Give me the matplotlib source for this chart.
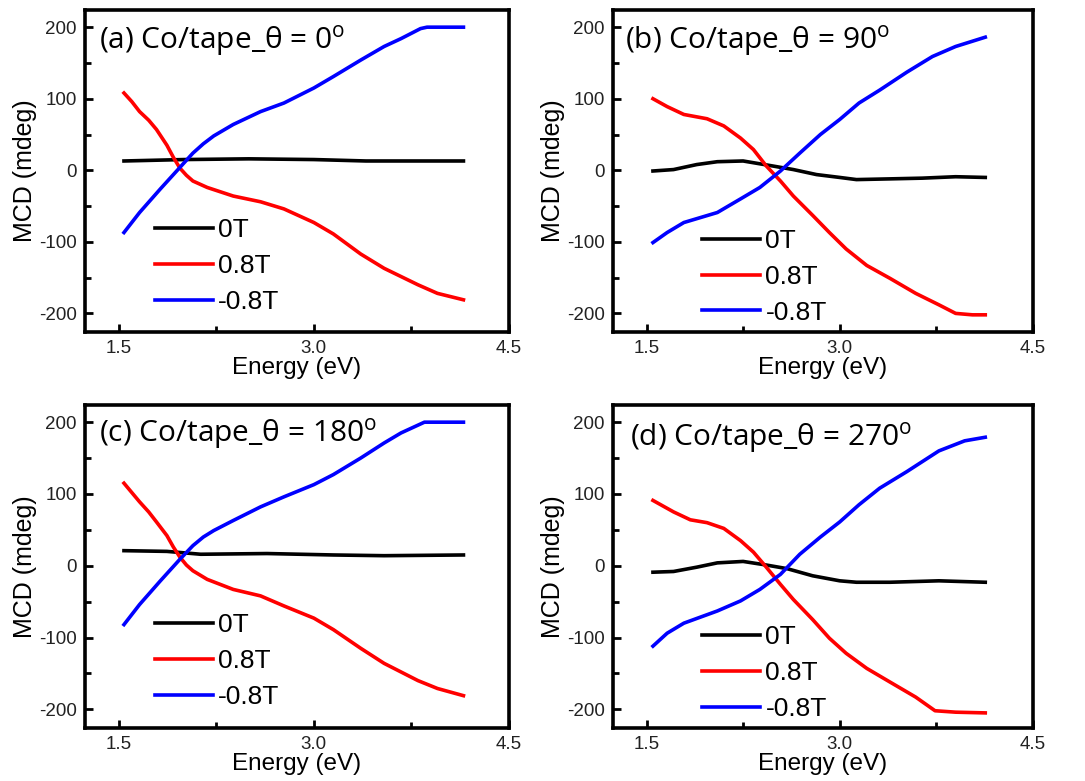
import matplotlib
matplotlib.use("Agg")
import matplotlib.pyplot as plt
from matplotlib.ticker import MultipleLocator

plt.rcParams["font.family"] = ["Liberation Sans", "DejaVu Sans"]
plt.rcParams["mathtext.fontset"] = "custom"
plt.rcParams["mathtext.rm"] = "Open Sans"

#  Values (energy in eV, MCD in mdeg)

# (a) theta = 0
a_0T_x = [1.54, 2.0, 2.5, 3.0, 3.4, 3.8, 4.15]
a_0T_y = [13, 15, 16, 15, 13, 13, 13]
a_p08_x = [1.54, 1.60, 1.66, 1.73, 1.79, 1.87, 1.92, 1.97, 2.02, 2.07, 2.18, 2.38, 2.59, 2.77, 3.0, 3.15, 3.36, 3.54, 3.80, 3.95, 4.15]
a_p08_y = [108, 96, 82, 70, 57, 35, 18, 3, -7, -15, -24, -36, -44, -54, -73, -89, -117, -137, -160, -172, -181]
a_m08_x = [1.54, 1.66, 1.82, 1.97, 2.07, 2.15, 2.23, 2.38, 2.59, 2.77, 3.0, 3.15, 3.36, 3.54, 3.67, 3.82, 3.87, 4.15]
a_m08_y = [-87, -59, -26, 4, 24, 37, 48, 64, 82, 94, 115, 131, 154, 173, 184, 198, 200, 200]

# (b) theta = 90
b_0T_x = [1.55, 1.71, 1.89, 2.05, 2.25, 2.48, 2.64, 2.82, 3.0, 3.13, 3.39, 3.64, 3.9, 4.13]
b_0T_y = [-1, 1, 8, 12, 13, 6, 1, -6, -10, -13, -12, -11, -9, -10]
b_p08_x = [1.55, 1.66, 1.79, 1.97, 2.10, 2.23, 2.33, 2.43, 2.54, 2.64, 2.79, 2.92, 3.05, 3.21, 3.39, 3.59, 3.77, 3.9, 4.03, 4.13]
b_p08_y = [100, 89, 78, 72, 62, 45, 29, 6, -15, -36, -63, -87, -110, -133, -151, -172, -188, -200, -202, -202]
b_m08_x = [1.55, 1.66, 1.79, 2.05, 2.23, 2.38, 2.54, 2.69, 2.85, 3.0, 3.15, 3.31, 3.52, 3.72, 3.9, 4.13]
b_m08_y = [-101, -87, -73, -59, -40, -24, -1, 24, 50, 71, 94, 112, 137, 159, 173, 186]

# (c) theta = 180
c_0T_x = [1.54, 1.87, 2.13, 2.64, 3.15, 3.54, 4.15]
c_0T_y = [21, 20, 16, 17, 15, 14, 15]
c_p08_x = [1.54, 1.60, 1.66, 1.73, 1.79, 1.87, 1.92, 1.97, 2.02, 2.07, 2.18, 2.38, 2.59, 2.77, 3.0, 3.15, 3.36, 3.54, 3.80, 3.95, 4.15]
c_p08_y = [115, 102, 89, 75, 61, 42, 26, 12, 1, -7, -19, -33, -42, -56, -73, -89, -115, -136, -160, -171, -181]
c_m08_x = [1.54, 1.66, 1.82, 1.97, 2.07, 2.15, 2.23, 2.38, 2.59, 2.77, 3.0, 3.15, 3.36, 3.54, 3.67, 3.85, 4.15]
c_m08_y = [-82, -54, -21, 9, 28, 40, 49, 63, 82, 96, 113, 127, 150, 171, 185, 200, 200]

# (d) theta = 270
d_0T_x = [1.55, 1.71, 1.89, 2.05, 2.25, 2.43, 2.59, 2.79, 3.0, 3.13, 3.39, 3.77, 4.13]
d_0T_y = [-9, -8, -2, 4, 6, 1, -4, -14, -21, -23, -23, -21, -23]
d_p08_x = [1.55, 1.71, 1.84, 1.97, 2.10, 2.23, 2.33, 2.43, 2.54, 2.64, 2.79, 2.92, 3.05, 3.21, 3.39, 3.59, 3.74, 3.9, 4.13]
d_p08_y = [91, 75, 64, 60, 52, 35, 19, -2, -26, -47, -75, -101, -122, -143, -162, -183, -202, -204, -205]
d_m08_x = [1.55, 1.66, 1.79, 2.05, 2.23, 2.38, 2.54, 2.69, 2.85, 3.0, 3.15, 3.31, 3.52, 3.77, 3.97, 4.13]
d_m08_y = [-112, -94, -80, -63, -49, -33, -12, 16, 40, 61, 85, 108, 131, 160, 174, 179]

labels = ["0T", "0.8T", "-0.8T"]
colors = ["black", "red", "blue"]

panels = [
    ("(a) Co/tape_θ = 0", [(a_0T_x, a_0T_y), (a_p08_x, a_p08_y), (a_m08_x, a_m08_y)]),
    ("(b) Co/tape_θ = 90", [(b_0T_x, b_0T_y), (b_p08_x, b_p08_y), (b_m08_x, b_m08_y)]),
    ("(c) Co/tape_θ = 180", [(c_0T_x, c_0T_y), (c_p08_x, c_p08_y), (c_m08_x, c_m08_y)]),
    ("(d) Co/tape_θ = 270", [(d_0T_x, d_0T_y), (d_p08_x, d_p08_y), (d_m08_x, d_m08_y)]),
]

#  axes positions in figure fractions, title position and legend anchor
boxes = [[0.0783, 0.5749, 0.3908, 0.4123],
         [0.565, 0.5749, 0.387, 0.4123],
         [0.0783, 0.0679, 0.3908, 0.4136],
         [0.565, 0.0679, 0.387, 0.4136]]
title_pos = [(0.033, 0.903), (0.029, 0.903), (0.033, 0.909), (0.040, 0.896)]
leg_pos = [(0.165, 0.317), (0.212, 0.284), (0.165, 0.319), (0.212, 0.282)]

fig = plt.figure(figsize=(10.85, 7.81), dpi=100)

for i, (title, curves) in enumerate(panels):
    ax = fig.add_axes(boxes[i])
    for (x, y), lab, col in zip(curves, labels, colors):
        ax.plot(x, y, color=col, lw=2.6, label=lab, solid_joinstyle="round")
    ax.set_xlim(1.24, 4.5)
    ax.set_ylim(-226, 224)
    ax.xaxis.set_minor_locator(MultipleLocator(0.75))
    ax.yaxis.set_minor_locator(MultipleLocator(50))
    ax.set_xticks([1.5, 3.0, 4.5])
    ax.set_xticklabels(["1.5", "3.0", "4.5"])
    ax.set_yticks([-200, -100, 0, 100, 200])
    ax.set_yticklabels(["-200", "-100", "0", "100", "200"])
    ax.tick_params(which="both", direction="in", width=2, labelsize=13.5,
                   top=False, right=False, pad=6, labelcolor="#222222")
    ax.tick_params(which="major", length=6)
    ax.tick_params(which="minor", length=4)
    for sp in ax.spines.values():
        sp.set_linewidth(2.6)
    ax.set_xlabel("Energy (eV)", fontsize=17.5, labelpad=0)
    ax.set_ylabel("MCD (mdeg)", fontsize=18, labelpad=1)
    ax.text(title_pos[i][0], title_pos[i][1], title + r"$^{\mathrm{o}}$",
            transform=ax.transAxes, fontsize=21.5, va="center", ha="left",
            family=["Open Sans", "DejaVu Sans"])
    lx, ly = leg_pos[i]
    ax.legend(loc="upper left", bbox_to_anchor=(lx, ly + 0.036),
              frameon=False, fontsize=19, handlelength=2.2, handletextpad=0.2,
              labelspacing=0.45, borderpad=0, borderaxespad=0)

fig.savefig("out.png", dpi=100)
